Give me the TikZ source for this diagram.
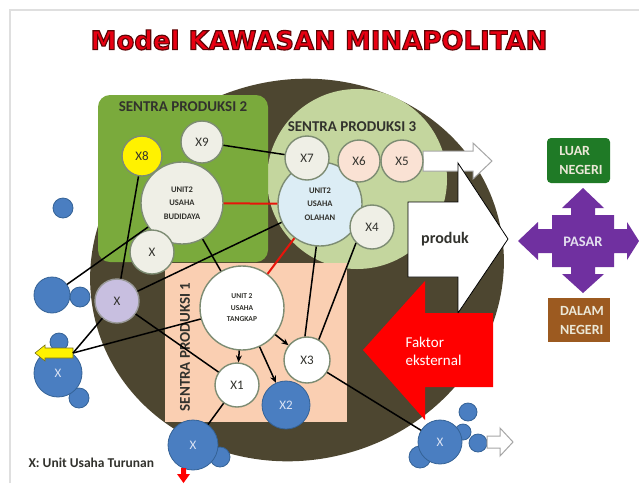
\documentclass[tikz,border=0pt]{standalone}
\usepackage{fontspec}
\setmainfont{Carlito}
\newfontfamily\titlefont{DejaVu Sans}
\usetikzlibrary{arrows.meta}

\definecolor{soil}{RGB}{77,70,48}
\definecolor{leaf}{RGB}{122,170,60}
\definecolor{lightleaf}{RGB}{196,214,158}
\definecolor{peach}{RGB}{250,207,178}
\definecolor{shell}{RGB}{239,239,230}
\definecolor{rim}{RGB}{125,140,115}
\definecolor{ink}{RGB}{50,50,45}
\definecolor{seablue}{RGB}{74,126,193}
\definecolor{deepblue}{RGB}{52,98,150}
\definecolor{paleblue}{RGB}{220,228,245}
\definecolor{icy}{RGB}{220,237,245}
\definecolor{blush}{RGB}{250,226,212}
\definecolor{lilac}{RGB}{200,191,224}
\definecolor{hotred}{RGB}{232,20,10}
\definecolor{titlered}{RGB}{232,0,18}
\definecolor{marketgreen}{RGB}{31,122,38}
\definecolor{marketpurple}{RGB}{112,48,160}
\definecolor{marketbrown}{RGB}{156,90,32}
\definecolor{cream}{RGB}{235,232,215}

\tikzset{
  unit/.style={circle, draw=rim, line width=1.4pt, fill=shell, inner sep=0pt,
    text=ink, font=\fontsize{13}{13}\selectfont},
  hub/.style={unit, minimum size=84, align=center,
    font=\bfseries\fontsize{8.5}{13.5}\selectfont},
  blob/.style={circle, draw=deepblue, line width=0.8pt, fill=seablue,
    inner sep=0pt, text=paleblue, font=\fontsize{13}{13}\selectfont},
  link/.style={line width=1.5pt},
  hotlink/.style={line width=2pt, draw=hotred},
  feed/.style={link, -{Stealth[length=7pt, width=6pt]}},
  market/.style={align=left, inner sep=0pt, text=cream,
    font=\bfseries\fontsize{14}{19}\selectfont},
  sentra/.style={text=ink, font=\bfseries\fontsize{15}{15}\selectfont},
  hollow/.style={fill=white, draw=gray!70, line width=1pt},
}

\begin{document}
\begin{tikzpicture}[x=1pt, y=-1pt]
  \useasboundingbox (0,0) rectangle (639,483);
  \fill[white] (0,0) rectangle (639,483);
  \draw[gray!25, line width=1.5pt] (10,483) -- (10,10) -- (639,10);

  \node[font=\titlefont\bfseries\fontsize{26}{26}\selectfont] (title) at (319,40)
    {\color{titlered}\special{pdf:literal direct 2 Tr 1.1 w 0.35 0.02 0.02 RG}Model KAWASAN MINAPOLITAN};

  % kawasan
  \fill[soil, rotate around={15:(297,270)}] (297,270) ellipse [x radius=208, y radius=190];
  \fill[lightleaf] (357,179) circle [radius=90];
  \fill[leaf, rounded corners=12pt] (98,95) rectangle (268,262);
  \fill[peach] (165,263) rectangle (347,422);

  \node[sentra] (s2) at (183,107) {SENTRA PRODUKSI 2};
  \node[sentra] (s3) at (352,127) {SENTRA PRODUKSI 3};
  \node[sentra, rotate=90] (s1) at (185,347) {SENTRA PRODUKSI 1};

  % panah keluar
  \draw[hollow] (423,151) -- (473,151) -- (473,143) -- (492,161) -- (473,179)
    -- (473,171) -- (423,171) -- cycle;
  \draw[fill=white, line width=0.8pt] (408,202) -- (458,202) -- (458,163) -- (508,239)
    -- (458,313) -- (458,277) -- (408,277) -- cycle;
  \node[text=ink, font=\bfseries\fontsize{16}{16}\selectfont] (produk) at (445,239) {produk};
  \fill[red] (363,350) -- (425,281) -- (425,313) -- (493,313) -- (493,387)
    -- (425,387) -- (425,420) -- cycle;
  \node[anchor=west, align=left, text=white, font=\fontsize{15}{18}\selectfont]
    (faktor) at (402,351) {Faktor\\eksternal};

  % pasar
  \fill[marketgreen, rounded corners=4pt] (547,138) rectangle (610,183);
  \node[market] (luar) at (581,161) {LUAR\\NEGERI};
  \fill[marketbrown] (548,298) rectangle (610,342);
  \node[market] (dalam) at (582,320) {DALAM\\NEGERI};
  \begin{scope}[shift={(583,241)}]
    \fill[marketpurple] (0,-53) -- (21,-33) -- (12,-33) -- (12,-26) -- (31,-26)
      -- (31,-12) -- (44,-12) -- (44,-19) -- (56,0) -- (44,19) -- (44,12)
      -- (31,12) -- (31,26) -- (12,26) -- (12,33) -- (21,33) -- (0,52)
      -- (-21,33) -- (-12,33) -- (-12,26) -- (-31,26) -- (-31,12) -- (-45,12)
      -- (-45,19) -- (-65,0) -- (-45,-19) -- (-45,-12) -- (-31,-12) -- (-31,-26)
      -- (-12,-26) -- (-12,-33) -- (-21,-33) -- cycle;
  \end{scope}
  \node[text=lilac!50!white, font=\bfseries\fontsize{14.5}{14.5}\selectfont] (pasar) at (583,242) {PASAR};

  % unit usaha
  \node[hub, minimum size=82] (budidaya) at (182,203) {UNIT2\\USAHA\\BUDIDAYA};
  \node[hub, fill=icy] (olahan) at (320,204) {UNIT2\\USAHA\\OLAHAN};
  \node[hub, fill=white, font=\bfseries\fontsize{7.5}{11.5}\selectfont] (tangkap) at (242,308)
    {UNIT 2\\USAHA\\TANGKAP};
  \node[unit, fill=yellow, minimum size=40] (x8) at (142,156) {X8};
  \node[unit, minimum size=42] (x9) at (202,142) {X9};
  \node[unit, minimum size=44] (xb) at (152,252) {X};
  \node[unit, minimum size=44] (x7) at (307,158) {X7};
  \node[unit, fill=blush, minimum size=42] (x6) at (359,161) {X6};
  \node[unit, fill=blush, minimum size=42] (x5) at (402,161) {X5};
  \node[unit, minimum size=44] (x4) at (372,227) {X4};
  \node[unit, fill=white, minimum size=46] (x3) at (307,360) {X3};
  \node[unit, fill=white, minimum size=44] (x1) at (237,385) {X1};
  \node[blob, minimum size=48] (x2) at (286,405) {X2};
  \node[unit, fill=lilac, draw=gray!80, minimum size=44] (xp) at (117,301) {X};

  % unit turunan di luar kawasan
  \node[blob, minimum size=20] (dot) at (63,208) {};
  \node[blob, minimum size=20] (lsmall) at (80,297) {};
  \node[blob, minimum size=36] (lbig) at (52,295) {};
  \node[blob, minimum size=18] (ytop) at (59,342) {};
  \node[blob, minimum size=20] (ybot) at (79,398) {};
  \node[blob, minimum size=48] (ybx) at (58,373) {X};
  \draw[fill=yellow, draw=olive!80!black, line width=0.6pt] (73,348) -- (45,348) -- (45,345)
    -- (35,353) -- (45,361) -- (45,358) -- (73,358) -- cycle;
  \coordinate (yarrow) at (73,353);
  \node[blob, minimum size=20] (bsmall) at (220,457) {};
  \node[blob, minimum size=50] (bx) at (193,445) {X};
  \fill[red] (181,468) -- (186,468) -- (186,474) -- (190,474) -- (183.5,483)
    -- (177,474) -- (181,474) -- cycle;
  \node[blob, minimum size=18] (r1) at (468,412) {};
  \node[blob, minimum size=16] (r2) at (463,432) {};
  \node[blob, minimum size=18] (r3) at (478,443) {};
  \node[blob, minimum size=22] (r4) at (420,457) {};
  \node[blob, minimum size=44] (rx) at (440,442) {X};
  \draw[hollow] (487,436) -- (500,436) -- (500,428) -- (513,442) -- (500,456)
    -- (500,448) -- (487,448) -- cycle;

  % hubungan
  \draw[hotlink] (budidaya) -- (olahan);
  \draw[hotlink] (olahan) -- (tangkap);
  \draw[link] (x9) -- (x7);
  \draw[link] (budidaya) -- (tangkap);
  \draw[link] (budidaya) -- (lbig);
  \draw[link] (x8) -- (xp);
  \draw[link] (olahan) -- (xp);
  \draw[link] (xp) -- (x1);
  \draw[link] (xp) -- (yarrow);
  \draw[link] (tangkap) -- (yarrow);
  \draw[link] (olahan.265) -- (x3.95);
  \draw[link] (x4.225) -- (x3.60);
  \draw[feed] (tangkap) -- (x1);
  \draw[feed] (tangkap) -- (x2);
  \draw[feed] (tangkap) -- (x3);
  \draw[link] (x1) -- (bx);
  \draw[link] (x3) -- (rx);

  \node[anchor=west, text=ink, font=\bfseries\fontsize{13.5}{13.5}\selectfont]
    (legend) at (25,463) {X: Unit Usaha Turunan};
\end{tikzpicture}
\end{document}
